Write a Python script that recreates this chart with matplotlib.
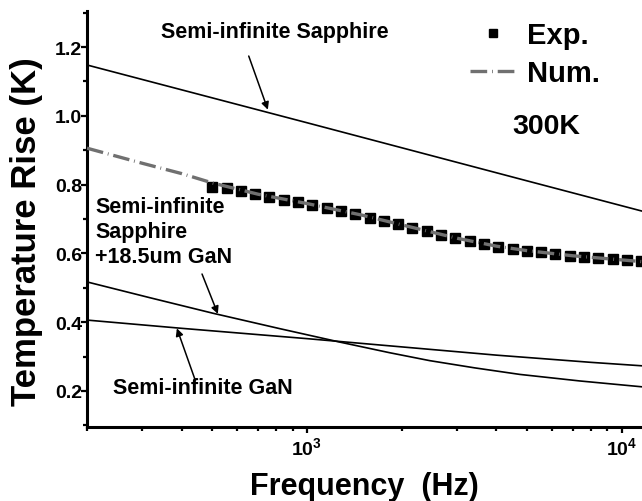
import matplotlib
matplotlib.use("Agg")
import matplotlib.pyplot as plt
from matplotlib.ticker import MultipleLocator, NullFormatter, LogLocator
from matplotlib.lines import Line2D

plt.rcParams['font.family'] = 'Liberation Sans'
plt.rcParams['font.weight'] = 'bold'
plt.rcParams['mathtext.fontset'] = 'custom'
plt.rcParams['mathtext.rm'] = 'Liberation Sans'
plt.rcParams['mathtext.bf'] = 'Liberation Sans:bold'
plt.rcParams['lines.scale_dashes'] = False

# measured points (Hz, K)
exp_f = [500, 555, 616, 684, 760, 844, 937, 1040, 1155, 1282, 1423, 1580,
         1755, 1948, 2163, 2402, 2667, 2961, 3288, 3650, 4053, 4500, 4997,
         5548, 6160, 6839, 7594, 8432, 9362, 10394, 11541]
exp_t = [0.793, 0.789, 0.782, 0.772, 0.765, 0.755, 0.749, 0.740, 0.731, 0.722,
         0.715, 0.704, 0.693, 0.685, 0.675, 0.665, 0.654, 0.644, 0.635, 0.628,
         0.620, 0.614, 0.608, 0.603, 0.598, 0.593, 0.590, 0.587, 0.583, 0.580,
         0.577]

# numerical fit
num_f = [200, 300, 400, 500, 700, 1000, 1500, 2000, 3000, 4000, 5000, 7000, 10000, 11600]
num_t = [0.906, 0.862, 0.832, 0.805, 0.772, 0.745, 0.711, 0.683, 0.644, 0.621,
         0.608, 0.593, 0.581, 0.576]

# analytic limits
sap_f = [200, 1000, 5000, 11600]
sap_t = [1.148, 0.980, 0.811, 0.723]

sapgan_f = [200, 317, 502, 820, 1271, 1832, 2455, 3411, 4742, 7345, 11560]
sapgan_t = [0.517, 0.471, 0.426, 0.381, 0.342, 0.311, 0.288, 0.267, 0.248, 0.229, 0.212]

gan_f = [200, 400, 1000, 2000, 4000, 8000, 11600]
gan_t = [0.406, 0.382, 0.352, 0.328, 0.304, 0.283, 0.273]

fig = plt.figure(figsize=(6.42, 5.02), dpi=100)
ax = fig.add_axes([87/642, 1-428/502, (642-87)/642, (428-12)/502])
ax.set_xscale('log')

ax.plot(sap_f, sap_t, color='black', lw=1.2)
ax.plot(sapgan_f, sapgan_t, color='black', lw=1.2)
ax.plot(gan_f, gan_t, color='black', lw=1.2)
ax.plot(exp_f, exp_t, 's', color='black', ms=7.5, ls='none', zorder=3)
ax.plot(num_f, num_t, color='#707070', lw=2.4, zorder=4, dashes=[12, 3.5, 0.6, 3.5])

ax.set_xlim(200, 11600)
ax.set_ylim(0.095, 1.305)

ax.spines['top'].set_visible(False)
ax.spines['right'].set_visible(False)
ax.spines['left'].set_linewidth(2.2)
ax.spines['bottom'].set_linewidth(2.2)

ax.yaxis.set_minor_locator(MultipleLocator(0.1))
ax.set_yticks([0.2, 0.4, 0.6, 0.8, 1.0, 1.2])
ax.set_yticklabels(['0.2', '0.4', '0.6', '0.8', '1.0', '1.2'])
ax.set_xticks([1e3, 1e4])
ax.set_xticklabels([r'$\mathbf{10^{3}}$', r'$\mathbf{10^{4}}$'])
ax.xaxis.set_minor_locator(LogLocator(base=10, subs=range(2, 10)))
ax.xaxis.set_minor_formatter(NullFormatter())
ax.tick_params(which='major', direction='out', length=4.5, width=1.6, labelsize=14)
ax.tick_params(which='minor', direction='out', length=3, width=1.6)
ax.tick_params(axis='y', pad=-1)
ax.tick_params(axis='x', pad=2)

ax.set_xlabel('Frequency  (Hz)', fontsize=22, fontweight='bold')
ax.set_ylabel('Temperature Rise (K)', fontsize=25, fontweight='bold')
ax.xaxis.set_label_coords(0.5, -0.105)
ax.yaxis.set_label_coords(-0.08, 0.471)

arrow = dict(arrowstyle='-|>', color='black', lw=1.1, mutation_scale=11, shrinkA=0, shrinkB=0)
ax.text(791, 1.244, 'Semi-infinite Sapphire', fontsize=15.5, ha='center', va='center')
ax.annotate('', xy=(751, 1.018), xytext=(653, 1.174), arrowprops=arrow)
ax.text(212, 0.665, 'Semi-infinite\nSapphire\n+18.5um GaN', fontsize=15.5,
        ha='left', va='center', linespacing=1.25)
ax.annotate('', xy=(521, 0.424), xytext=(464, 0.540), arrowprops=arrow)
ax.text(467, 0.209, 'Semi-infinite GaN', fontsize=15.5, ha='center', va='center')
ax.annotate('', xy=(386, 0.382), xytext=(440, 0.235), arrowprops=arrow)
ax.text(5770, 0.970, '300K', fontsize=20.5, ha='center', va='center')

handles = [Line2D([], [], marker='s', color='black', ls='none', ms=6),
           Line2D([], [], color='#707070', lw=2.4, dashes=[12, 3.5, 0.6, 3.5])]
ax.legend(handles, ['Exp.', 'Num.'], loc='upper left', frameon=False,
          bbox_to_anchor=(470/642, 1-22/502), bbox_transform=fig.transFigure,
          fontsize=21, handlelength=1.6, handletextpad=0.35, labelspacing=0.34,
          borderpad=0, borderaxespad=0)

fig.savefig('out.png', dpi=100)
